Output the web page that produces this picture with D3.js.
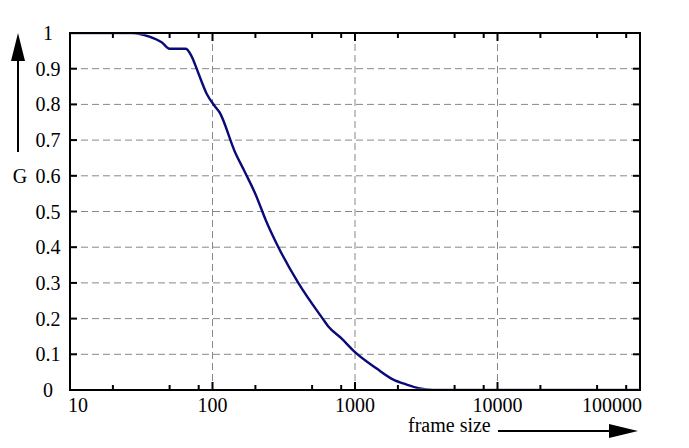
<!DOCTYPE html>
<html>
<head>
<meta charset="utf-8">
<script src="https://cdn.jsdelivr.net/npm/d3@7"></script>
<style>
  body { margin: 0; background: #fff; }
  text { font-family: "Liberation Serif", "Times New Roman", serif; font-size: 20px; fill: #000; }
</style>
</head>
<body>
<div id="chart"></div>
<script>
// frame size vs G
const frameSizes = [10, 20, 27, 36, 44, 50, 65, 71.5, 80, 91, 103, 112, 144, 169, 202, 237, 290, 400, 593, 650, 807, 1000, 1419, 1858, 2306, 2782, 3550, 100000];
const gValues    = [1, 1, 1, 0.99, 0.974, 0.956, 0.956, 0.934, 0.885, 0.83, 0.797, 0.778, 0.666, 0.61, 0.545, 0.475, 0.40, 0.30, 0.20, 0.178, 0.144, 0.106, 0.060, 0.029, 0.015, 0.005, 0, 0];

const xTicks = [10, 100, 1000, 10000, 100000];
const xTickLabels = ["10", "100", "1000", "10000", "100000"];
const xMinor = [2, 5, 8];
const yTicks = [0, 0.1, 0.2, 0.3, 0.4, 0.5, 0.6, 0.7, 0.8, 0.9, 1];
const yTickLabels = ["0", "0.1", "0.2", "0.3", "0.4", "0.5", "0.6", "0.7", "0.8", "0.9", "1"];

const width = 689, height = 448;
const box = {left: 70, right: 640, top: 33, bottom: 390};

const x = d3.scaleLog().domain([10, 100000]).range([box.left, box.right]);
const y = d3.scaleLinear().domain([0, 1]).range([box.bottom, box.top]);

const svg = d3.select("#chart").append("svg")
    .attr("width", width)
    .attr("height", height);

// keep the curve inside the frame, like the original
svg.append("clipPath")
    .attr("id", "plot-clip")
  .append("rect")
    .attr("x", box.left).attr("y", box.top + 1.3)
    .attr("width", box.right - box.left)
    .attr("height", box.bottom - box.top - 2.6);

// grid
const grid = svg.append("g")
    .attr("stroke", "#888")
    .attr("stroke-width", 1)
    .attr("stroke-dasharray", "7,4")
    .attr("fill", "none");
grid.selectAll("line.h")
    .data(yTicks.filter((d) => d > 0 && d < 1))
  .enter().append("line")
    .attr("x1", box.left).attr("x2", box.right)
    .attr("y1", (d) => y(d)).attr("y2", (d) => y(d));
grid.selectAll("line.v")
    .data(xTicks.slice(1, -1))
  .enter().append("line")
    .attr("x1", (d) => x(d)).attr("x2", (d) => x(d))
    .attr("y1", box.top).attr("y2", box.bottom);

// the curve
const line = d3.line()
    .x((d, i) => x(frameSizes[i]))
    .y((d) => y(d))
    .curve(d3.curveMonotoneX);
svg.append("path")
    .datum(gValues)
    .attr("clip-path", "url(#plot-clip)")
    .attr("fill", "none")
    .attr("stroke", "#0a0a78")
    .attr("stroke-width", 2.4)
    .attr("stroke-linejoin", "round")
    .attr("d", line);

// frame
svg.append("rect")
    .attr("x", box.left).attr("y", box.top)
    .attr("width", box.right - box.left).attr("height", box.bottom - box.top)
    .attr("fill", "none")
    .attr("stroke", "#000")
    .attr("stroke-width", 2);

// ticks
const minorVals = [];
xTicks.slice(0, -1).forEach((d) => xMinor.forEach((m) => minorVals.push(d * m)));
const ticks = svg.append("g").attr("stroke", "#000").attr("stroke-width", 2);
ticks.selectAll("line.mb").data(minorVals).enter().append("line")
    .attr("x1", (d) => x(d)).attr("x2", (d) => x(d))
    .attr("y1", box.bottom).attr("y2", box.bottom - 5);
ticks.selectAll("line.mt").data(minorVals).enter().append("line")
    .attr("x1", (d) => x(d)).attr("x2", (d) => x(d))
    .attr("y1", box.top).attr("y2", box.top + 5);
ticks.selectAll("line.xb").data(xTicks.slice(1, -1)).enter().append("line")
    .attr("x1", (d) => x(d)).attr("x2", (d) => x(d))
    .attr("y1", box.bottom).attr("y2", box.bottom - 8);
ticks.selectAll("line.xt").data(xTicks.slice(1, -1)).enter().append("line")
    .attr("x1", (d) => x(d)).attr("x2", (d) => x(d))
    .attr("y1", box.top).attr("y2", box.top + 8);
ticks.selectAll("line.yl").data(yTicks).enter().append("line")
    .attr("x1", box.left).attr("x2", box.left + 7)
    .attr("y1", (d) => y(d)).attr("y2", (d) => y(d));
ticks.selectAll("line.yr").data(yTicks).enter().append("line")
    .attr("x1", box.right - 7).attr("x2", box.right)
    .attr("y1", (d) => y(d)).attr("y2", (d) => y(d));

// tick labels
svg.append("g").selectAll("text")
    .data(yTicks)
  .enter().append("text")
    .attr("x", 48)
    .attr("y", (d) => y(d))
    .attr("dy", "0.35em")
    .attr("text-anchor", "middle")
    .text((d, i) => yTickLabels[i]);

svg.append("g").selectAll("text")
    .data(xTicks)
  .enter().append("text")
    .attr("x", (d, i) => i === 0 ? x(d) - 2 : i === xTicks.length - 1 ? x(d) + 2 : x(d))
    .attr("y", 412)
    .attr("text-anchor", (d, i) => i === 0 ? "start" : i === xTicks.length - 1 ? "end" : "middle")
    .text((d, i) => xTickLabels[i]);

// axis titles with arrows
svg.append("text")
    .attr("x", 20).attr("y", y(0.6))
    .attr("dy", "0.35em")
    .attr("text-anchor", "middle")
    .text("G");
svg.append("line")
    .attr("x1", 18).attr("x2", 18)
    .attr("y1", 152).attr("y2", 55)
    .attr("stroke", "#000").attr("stroke-width", 2);
svg.append("path")
    .attr("d", "M18,33 L11,61 L25,61 Z")
    .attr("fill", "#000");

svg.append("text")
    .attr("x", 408).attr("y", 432)
    .text("frame size");
svg.append("line")
    .attr("x1", 498).attr("x2", 615)
    .attr("y1", 431).attr("y2", 431)
    .attr("stroke", "#000").attr("stroke-width", 2);
svg.append("path")
    .attr("d", "M638,431 L609,424 L609,438 Z")
    .attr("fill", "#000");
</script>
</body>
</html>
